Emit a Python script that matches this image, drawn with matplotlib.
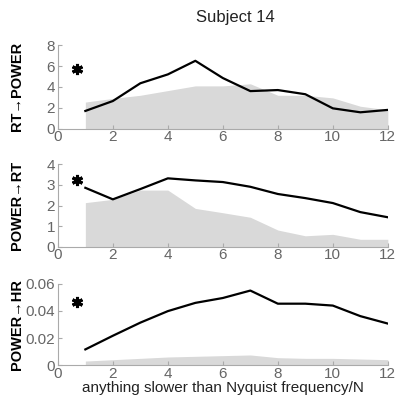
import matplotlib
matplotlib.use("Agg")
import matplotlib.pyplot as plt
import numpy as np

# Lag axis: anything slower than Nyquist frequency / N
n_values = np.arange(1, 13)

# RT -> POWER
rt_power = [1.7, 2.65, 4.35, 5.2, 6.5, 4.85, 3.6, 3.7, 3.3, 1.95, 1.57, 1.8]
rt_power_null = [2.55, 2.9, 3.2, 3.65, 4.1, 4.1, 4.3, 3.2, 3.2, 2.95, 2.15, 1.8]

# POWER -> RT
power_rt = [2.86, 2.3, 2.8, 3.32, 3.22, 3.14, 2.91, 2.56, 2.36, 2.12, 1.68, 1.43]
power_rt_null = [2.14, 2.3, 2.75, 2.75, 1.86, 1.65, 1.43, 0.81, 0.53, 0.6, 0.36, 0.36]

# POWER -> HR
power_hr = [0.0116, 0.0217, 0.0314, 0.0399, 0.046, 0.0496, 0.0551, 0.0454,
            0.0454, 0.044, 0.0362, 0.0307]
power_hr_null = [0.003, 0.004, 0.005, 0.006, 0.0065, 0.007, 0.0075, 0.0055,
                 0.005, 0.005, 0.0045, 0.004]

panels = [
    ("RT\u2192POWER", rt_power, rt_power_null, (0, 8), [0, 2, 4, 6, 8], ["0", "2", "4", "6", "8"], 5.7),
    ("POWER\u2192RT", power_rt, power_rt_null, (0, 4), [0, 1, 2, 3, 4], ["0", "1", "2", "3", "4"], 3.25),
    ("POWER\u2192HR", power_hr, power_hr_null, (0, 0.06), [0, 0.02, 0.04, 0.06], ["0", "0.02", "0.04", "0.06"], 0.047),
]

plt.rcParams["font.family"] = ["Liberation Sans", "DejaVu Sans"]
fig = plt.figure(figsize=(3.99, 3.96), dpi=100)

positions = [
    [0.145, 0.675, 0.827, 0.211],
    [0.145, 0.377, 0.827, 0.208],
    [0.145, 0.078, 0.827, 0.205],
]

spine_col = "#aaaaaa"
tick_col = "#666666"

for (label, vals, null, ylim, yt, ytl, star_y), pos in zip(panels, positions):
    ax = fig.add_axes(pos)
    ax.fill_between(n_values, 0, null, color="#d9d9d9", linewidth=0)
    ax.plot(n_values, vals, color="black", linewidth=1.6)
    ax.plot([0.7], [star_y], marker=(6, 2, 0), color="black", markersize=8,
            markeredgewidth=2.2, linestyle="none")
    ax.set_xlim(0, 12)
    ax.set_ylim(*ylim)
    ax.set_xticks([0, 2, 4, 6, 8, 10, 12])
    ax.set_yticks(yt)
    ax.set_yticklabels(ytl)
    for side in ("top", "right"):
        ax.spines[side].set_visible(False)
    for side in ("left", "bottom"):
        ax.spines[side].set_color(spine_col)
        ax.spines[side].set_linewidth(0.8)
    ax.tick_params(direction="in", length=3, width=0.8, color=spine_col,
                   labelcolor=tick_col, labelsize=11)
    ax.tick_params(axis="y", pad=2)
    ax.tick_params(axis="x", pad=1)
    ax.set_ylabel(label, fontsize=10.5, fontweight="bold")
    ax.yaxis.label.set_verticalalignment("center")
    ax.yaxis.set_label_coords(-0.124, 0.5)

ax.set_xlabel("anything slower than Nyquist frequency/N", fontsize=11,
              color="#222222", labelpad=0.5)
fig.text(0.59, 0.957, "Subject 14", fontsize=12, ha="center", va="center",
         color="#222222")

fig.savefig("out.png", dpi=100)
